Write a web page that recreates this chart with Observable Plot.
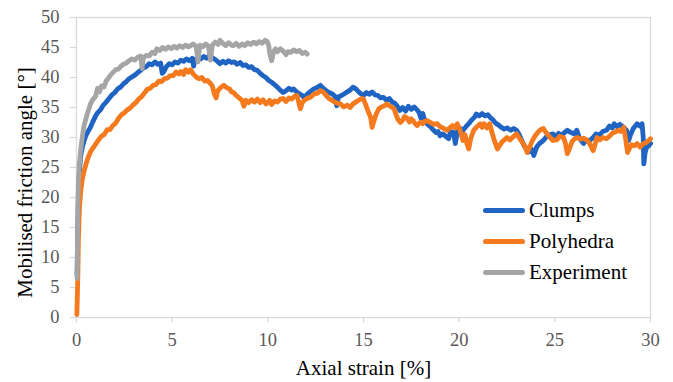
<!DOCTYPE html>
<html>
<head>
<meta charset="utf-8">
<script src="https://cdn.jsdelivr.net/npm/d3@7"></script>
<script src="https://cdn.jsdelivr.net/npm/@observablehq/plot@0.6"></script>
<style>
  html, body { margin: 0; padding: 0; background: #fff; }
  #wrap { position: relative; width: 673px; height: 382px; font-family: "Liberation Serif", "Times New Roman", serif; }
  #wrap svg text { font-family: "Liberation Serif", "Times New Roman", serif; }
  #legend { position: absolute; left: 483px; top: 195px; }
  .item { display: flex; align-items: center; height: 31px; font-size: 21px; color: #000; }
  .sw { width: 42px; height: 5px; border-radius: 3px; margin-right: 4px; }
</style>
</head>
<body>
<div id="wrap"></div>
<script>
// ---- data (strain %, friction angle °) ----
const seriesNames = ["Clumps", "Polyhedra", "Experiment"];
const seriesColors = ["#1f63c3", "#f57a1e", "#a5a5a5"];
const xTicks = [0, 5, 10, 15, 20, 25, 30];
const yTicks = [0, 5, 10, 15, 20, 25, 30, 35, 40, 45, 50];
const xLabel = "Axial strain [%]";
const yLabel = "Mobilised friction angle [°]";

const clumps = [[0.03,7],[0.06,14],[0.1,20],[0.15,24],[0.21,26.7],[0.3,28.3],[0.4,29.5],[0.5,30.4],[0.6,31],[0.73,31.7],[0.85,32.6],[1.0,33.6],[1.1,34.1],[1.25,34.6],[1.4,35.4],[1.55,35.9],[1.7,36.5],[1.85,37.1],[2.0,37.5],[2.15,38.1],[2.3,38.4],[2.47,39.0],[2.6,39.3],[2.75,39.8],[2.9,40.1],[3.05,40.4],[3.2,40.8],[3.35,41.2],[3.5,41.6],[3.65,41.8],[3.8,42.3],[3.95,42.1],[4.1,42.6],[4.25,42.2],[4.4,42.4],[4.48,40.7],[4.55,40.9],[4.7,41.8],[4.85,42.3],[5.0,42.1],[5.15,42.6],[5.3,42.4],[5.45,42.9],[5.6,42.7],[5.75,43.1],[5.9,42.8],[6.05,43.2],[6.12,41.9],[6.2,43.0],[6.35,43.3],[6.5,43.1],[6.65,43.5],[6.8,43.2],[6.95,43.7],[7.1,43.3],[7.25,43.0],[7.4,42.6],[7.5,42.3],[7.65,42.7],[7.8,42.4],[7.95,42.8],[8.1,42.5],[8.25,42.6],[8.4,42.2],[8.55,42.5],[8.7,42.0],[8.85,42.1],[9.0,41.7],[9.15,41.8],[9.3,41.3],[9.45,41.2],[9.6,40.7],[9.75,40.3],[9.9,40.0],[10.05,39.5],[10.2,39.2],[10.35,38.8],[10.5,38.4],[10.65,37.9],[10.8,37.5],[10.95,37.8],[11.1,38.2],[11.25,37.9],[11.35,38.1],[11.5,37.6],[11.65,37.3],[11.8,37.0],[11.9,36.6],[12.05,37.2],[12.2,37.6],[12.4,38.1],[12.55,38.3],[12.75,38.7],[12.9,38.2],[13.05,37.8],[13.2,37.5],[13.35,37.3],[13.5,36.9],[13.6,35.3],[13.7,36.8],[13.85,37.0],[14.0,37.3],[14.15,37.6],[14.3,37.9],[14.45,38.4],[14.6,38.1],[14.75,37.6],[14.9,37.2],[15.0,37.0],[15.15,37.5],[15.3,37.2],[15.45,37.6],[15.6,37.1],[15.75,37.0],[15.9,36.6],[16.05,36.7],[16.2,36.2],[16.35,36.5],[16.5,35.9],[16.6,35.8],[16.75,35.3],[16.9,34.5],[17.05,35.0],[17.2,34.4],[17.35,35.2],[17.5,34.7],[17.65,35.1],[17.8,34.6],[17.9,34.2],[18.0,33.2],[18.1,34.0],[18.2,32.8],[18.35,32.2],[18.5,31.8],[18.66,31.2],[18.8,30.8],[18.9,31.0],[19.0,30.3],[19.15,30.6],[19.3,30.2],[19.45,29.8],[19.55,31.0],[19.7,30.9],[19.8,29.0],[19.9,30.9],[20.07,31.5],[20.2,31.2],[20.35,31.8],[20.5,32.3],[20.65,32.9],[20.8,33.4],[20.9,33.9],[21.05,33.6],[21.2,34.0],[21.35,33.6],[21.5,33.8],[21.6,33.4],[21.75,33.0],[21.9,32.4],[22.05,32.1],[22.2,31.7],[22.35,31.4],[22.5,31.6],[22.7,31.2],[22.85,31.5],[23.0,31.2],[23.15,30.4],[23.3,29.3],[23.4,28.6],[23.5,28.2],[23.65,27.6],[23.8,28.0],[23.9,27.0],[24.05,28.4],[24.2,29.0],[24.4,29.5],[24.55,30.1],[24.7,30.4],[24.9,30.6],[25.05,30.2],[25.2,30.7],[25.35,30.3],[25.5,30.8],[25.65,31.2],[25.8,30.9],[26.0,30.6],[26.15,31.2],[26.3,29.8],[26.5,29.0],[26.65,29.6],[26.8,29.4],[27.0,30.0],[27.15,30.6],[27.3,30.3],[27.5,31.0],[27.7,31.2],[27.85,31.9],[28.0,31.6],[28.1,32.3],[28.25,31.8],[28.4,32.2],[28.6,31.7],[28.75,31.2],[28.86,29.5],[28.95,30.4],[29.1,31.5],[29.3,32.3],[29.45,31.9],[29.56,32.3],[29.62,30.0],[29.65,25.6],[29.72,27.5],[29.8,28.4],[29.9,28.6],[30.0,29.0]];

const polyhedra = [[0.02,0.5],[0.04,3],[0.07,7],[0.1,13],[0.15,18],[0.22,21],[0.3,23],[0.38,24.2],[0.5,25.6],[0.6,26.6],[0.73,27.6],[0.85,28.2],[1.0,28.9],[1.15,29.6],[1.3,30.2],[1.45,30.5],[1.6,31.3],[1.75,31.3],[1.9,32.0],[2.05,32.4],[2.2,33.2],[2.35,33.8],[2.5,34.1],[2.65,34.6],[2.8,34.9],[2.95,35.4],[3.1,35.8],[3.25,36.4],[3.4,36.8],[3.55,37.4],[3.69,38.0],[3.85,38.2],[4.0,38.7],[4.15,38.8],[4.3,39.4],[4.45,39.3],[4.6,39.8],[4.75,39.9],[4.9,40.3],[5.05,40.3],[5.2,40.9],[5.35,40.6],[5.45,41.0],[5.6,40.5],[5.7,41.3],[5.85,40.9],[5.96,41.3],[6.1,40.6],[6.25,40.1],[6.4,39.8],[6.55,40.0],[6.7,39.4],[6.85,39.5],[7.0,39.0],[7.1,38.6],[7.2,37.3],[7.3,36.6],[7.38,37.8],[7.5,38.2],[7.6,38.5],[7.7,38.7],[7.85,38.3],[8.0,38.1],[8.1,37.6],[8.2,37.5],[8.35,37.0],[8.5,36.6],[8.65,36.2],[8.75,35.2],[8.85,36.2],[9.0,35.8],[9.15,36.3],[9.3,35.9],[9.45,36.4],[9.6,35.8],[9.75,36.3],[9.9,35.6],[10.0,35.8],[10.1,36.2],[10.2,35.5],[10.35,36.1],[10.5,35.9],[10.65,36.4],[10.8,36.5],[10.95,36.0],[11.1,36.6],[11.25,36.4],[11.4,36.9],[11.53,37.0],[11.62,35.8],[11.7,34.8],[11.8,35.8],[11.95,36.3],[12.1,36.6],[12.23,36.7],[12.4,37.2],[12.6,37.4],[12.75,37.8],[12.9,37.6],[13.05,37.0],[13.2,36.5],[13.35,36.2],[13.5,35.9],[13.65,35.7],[13.8,35.6],[13.97,35.1],[14.15,35.4],[14.3,35.0],[14.45,35.6],[14.6,35.9],[14.75,36.2],[14.9,36.5],[15.0,36.4],[15.1,35.6],[15.25,34.3],[15.37,33.4],[15.45,31.7],[15.55,32.8],[15.65,33.8],[15.8,34.8],[15.95,35.1],[16.1,35.3],[16.2,35.6],[16.35,35.3],[16.5,35.0],[16.6,34.8],[16.7,33.8],[16.8,33.0],[16.93,32.5],[17.05,32.9],[17.15,33.5],[17.28,33.2],[17.4,32.6],[17.5,33.1],[17.6,32.8],[17.7,32.3],[17.8,32.0],[17.95,32.5],[18.1,32.3],[18.2,32.7],[18.33,32.8],[18.5,32.5],[18.65,32.2],[18.85,32.3],[19.0,31.8],[19.2,31.5],[19.37,31.2],[19.5,31.6],[19.65,32.0],[19.8,31.6],[19.9,32.3],[20.05,31.2],[20.2,29.5],[20.3,30.5],[20.4,29.0],[20.5,28.1],[20.6,29.8],[20.76,31.2],[20.9,31.7],[21.1,32.3],[21.2,31.7],[21.3,32.3],[21.45,31.6],[21.6,32.3],[21.7,31.0],[21.85,29.4],[22.0,28.1],[22.1,28.6],[22.25,29.3],[22.4,29.7],[22.5,30.0],[22.65,29.6],[22.85,30.2],[23.0,30.6],[23.15,29.9],[23.3,29.2],[23.45,28.5],[23.55,27.5],[23.65,28.1],[23.8,29.3],[23.95,30.2],[24.1,30.8],[24.25,31.3],[24.4,31.5],[24.5,31.0],[24.6,30.6],[24.75,30.0],[24.9,29.5],[25.1,29.6],[25.25,30.2],[25.45,30.0],[25.55,29.1],[25.65,27.3],[25.75,28.0],[25.9,29.3],[26.05,29.8],[26.2,30.0],[26.35,29.7],[26.5,29.9],[26.7,29.5],[26.85,28.8],[27.0,27.8],[27.1,28.8],[27.2,30.0],[27.35,29.6],[27.5,30.0],[27.7,29.8],[27.85,30.2],[28.0,30.7],[28.15,30.9],[28.3,31.2],[28.45,31.0],[28.6,31.7],[28.7,29.8],[28.8,27.5],[28.9,28.2],[29.0,28.8],[29.15,28.6],[29.3,29.0],[29.45,28.4],[29.6,28.9],[29.8,29.2],[29.9,29.5],[30.0,29.8]];

const experiment = [[0.03,6.5],[0.05,12],[0.07,18],[0.1,22.8],[0.15,25.5],[0.22,28],[0.3,30],[0.38,31.8],[0.5,33.2],[0.6,34.3],[0.73,35.6],[0.85,36.3],[0.99,36.8],[1.1,38.2],[1.2,37.6],[1.3,38.6],[1.43,38.4],[1.55,39.4],[1.65,39.8],[1.78,40.4],[1.9,40.8],[2.05,41.3],[2.2,41.4],[2.3,41.8],[2.45,42.2],[2.6,42.4],[2.75,42.8],[2.9,43.1],[3.05,42.9],[3.2,43.4],[3.35,43.6],[3.43,41.5],[3.5,43.3],[3.65,43.7],[3.8,43.6],[3.95,44.2],[4.1,44.0],[4.2,44.8],[4.35,44.5],[4.5,45.0],[4.65,44.7],[4.8,45.1],[4.95,44.8],[5.1,45.2],[5.25,44.9],[5.4,45.3],[5.55,45.0],[5.7,45.4],[5.85,45.1],[5.96,45.3],[6.1,45.6],[6.25,45.2],[6.35,42.6],[6.45,45.4],[6.6,45.1],[6.75,45.6],[6.9,45.2],[7.0,42.9],[7.1,45.4],[7.25,45.9],[7.4,45.5],[7.5,46.2],[7.65,45.7],[7.8,45.3],[7.95,45.8],[8.1,45.4],[8.2,45.3],[8.35,45.7],[8.5,45.2],[8.65,45.6],[8.8,45.3],[8.95,45.8],[9.1,45.5],[9.25,45.9],[9.4,45.6],[9.55,46.0],[9.7,45.7],[9.85,46.2],[9.97,46.0],[10.05,45.3],[10.1,44.0],[10.2,42.8],[10.3,44.3],[10.4,44.8],[10.5,44.3],[10.66,44.8],[10.8,44.4],[10.95,43.8],[11.05,44.3],[11.2,44.2],[11.35,44.6],[11.5,44.3],[11.65,44.5],[11.8,44.0],[11.97,44.2],[12.06,43.9]];

const seriesData = [clumps, polyhedra, experiment];

const font = '"Liberation Serif", "Times New Roman", serif';

const lineMarks = seriesData.map((data, i) =>
  Plot.line(data, {x: d => d[0], y: d => d[1], stroke: seriesColors[i], strokeWidth: 4.8, strokeLinejoin: "round", strokeLinecap: "round"})
);

const chart = Plot.plot({
  width: 673,
  height: 382,
  marginLeft: 76,
  marginRight: 23,
  marginTop: 17,
  marginBottom: 65,
  style: {fontFamily: font, background: "#fff", overflow: "visible"},
  x: {domain: [0, 30]},
  y: {domain: [0, 50]},
  marks: [
    Plot.frame({stroke: "#d9d9d9", strokeWidth: 1.3}),
    Plot.axisX({ticks: xTicks, tickSize: 5, tickPadding: 10, stroke: "#d9d9d9", fill: "#595959", fontSize: 18.5, fontFamily: font, label: null, strokeWidth: 1.3}),
    Plot.axisY({ticks: yTicks, tickSize: 6, tickPadding: 11, stroke: "#d9d9d9", fill: "#595959", fontSize: 18.5, fontFamily: font, label: null, strokeWidth: 1.3}),
    ...lineMarks,
    Plot.text([xLabel], {text: d => d, frameAnchor: "bottom", dy: 51, fontSize: 21, fontFamily: font, fill: "#000", lineAnchor: "middle", textAnchor: "middle"}),
    Plot.text([yLabel], {text: d => d, frameAnchor: "left", dx: -51, dy: 15, rotate: -90, fontSize: 21, fontFamily: font, fill: "#000", lineAnchor: "middle", textAnchor: "middle"})
  ]
});

const wrap = document.getElementById("wrap");
wrap.appendChild(chart);

const legend = document.createElement("div");
legend.id = "legend";
seriesNames.forEach((name, i) => {
  const item = document.createElement("div");
  item.className = "item";
  const sw = document.createElement("span");
  sw.className = "sw";
  sw.style.background = seriesColors[i];
  const lab = document.createElement("span");
  lab.textContent = name;
  item.appendChild(sw);
  item.appendChild(lab);
  legend.appendChild(item);
});
wrap.appendChild(legend);
</script>
</body>
</html>
